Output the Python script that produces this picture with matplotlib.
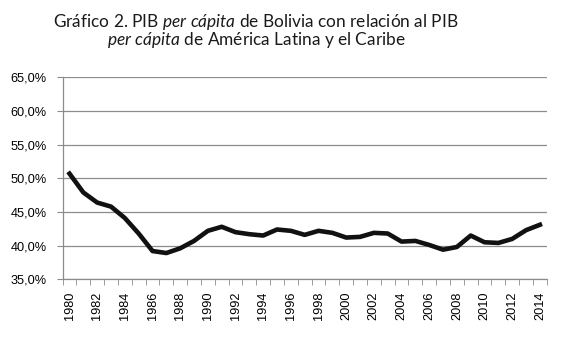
import matplotlib
matplotlib.use("Agg")
import matplotlib.pyplot as plt
from matplotlib.ticker import FuncFormatter, FixedLocator

years = list(range(1980, 2015))
ratio = [50.7, 47.9, 46.4, 45.8, 44.1, 41.8, 39.2, 38.9, 39.6, 40.7,
         42.2, 42.8, 42.0, 41.7, 41.5, 42.4, 42.2, 41.6, 42.2, 41.9,
         41.2, 41.3, 41.9, 41.8, 40.6, 40.7, 40.1, 39.4, 39.8, 41.5,
         40.5, 40.4, 41.0, 42.3, 43.1]
yticks = [35, 40, 45, 50, 55, 60, 65]

plt.rcParams['mathtext.fontset'] = 'custom'
plt.rcParams['mathtext.rm'] = 'Lato'
plt.rcParams['mathtext.it'] = 'Lato:italic'

fig = plt.figure(figsize=(5.69, 3.41), dpi=100)
ax = fig.add_axes([0.110, 0.181, 0.851, 0.592])

x = list(range(len(years)))
ax.plot(x, ratio, color='#111111', lw=3.3, solid_joinstyle='round', zorder=3)

gray = '#8c8c8c'
ax.set_xlim(-0.5, len(years) - 0.5)
ax.set_ylim(35, 65)
ax.set_yticks(yticks)
ax.yaxis.set_major_formatter(FuncFormatter(lambda v, p: f'{v:.1f}%'.replace('.', ',')))
ax.grid(axis='y', color=gray, lw=0.9)
ax.set_axisbelow(True)

ax.set_xticks(x[::2])
ax.set_xticklabels([str(y) for y in years[::2]], rotation=90)
ax.xaxis.set_minor_locator(FixedLocator([i - 0.5 for i in range(len(years) + 1)]))
ax.tick_params(axis='x', which='major', length=0, pad=9)
ax.tick_params(axis='x', which='minor', length=4, color=gray, direction='out')
ax.tick_params(axis='y', length=4.3, color=gray, direction='out', pad=7)
ax.tick_params(labelsize=9.2)
for lab in ax.get_xticklabels() + ax.get_yticklabels():
    lab.set_fontfamily('Liberation Sans')

for s in ['top', 'right']:
    ax.spines[s].set_visible(False)
for s in ['left', 'bottom']:
    ax.spines[s].set_color(gray)
    ax.spines[s].set_linewidth(0.9)

fig.text(0.45, 0.921, r'Gráfico 2. PIB $\mathit{per\ cápita}$ de Bolivia con relación al PIB',
         ha='center', va='baseline', fontsize=12.4, family='Lato', color='#1a1a1a')
fig.text(0.45, 0.868, r'$\mathit{per\ cápita}$ de América Latina y el Caribe',
         ha='center', va='baseline', fontsize=12.4, family='Lato', color='#1a1a1a')

fig.savefig('out.png', dpi=100)
